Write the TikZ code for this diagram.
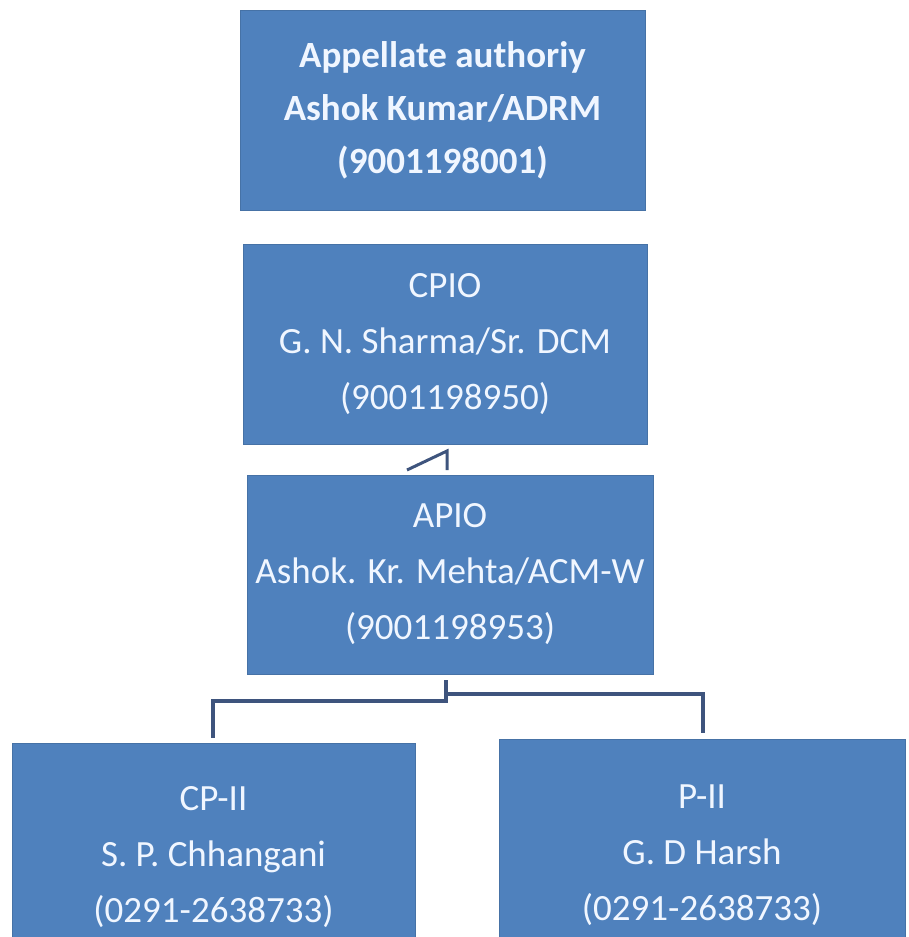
\documentclass[tikz,border=0pt]{standalone}
\usepackage{fontspec}
\setmainfont{Carlito}
\usetikzlibrary{positioning}
\definecolor{boxblue}{RGB}{79,129,189}
\definecolor{linkblue}{RGB}{62,84,125}
\definecolor{textwhite}{RGB}{240,246,255}

\begin{document}
\begin{tikzpicture}[x=1pt, y=-1pt,
  post/.style={fill=boxblue, draw=boxblue!88!black, line width=0.8pt, text=textwhite,
    align=center, inner sep=0pt, font=\fontsize{37}{56}\selectfont},
  link/.style={draw=linkblue, line width=3.5pt, line join=miter}]

\useasboundingbox (0,0) rectangle (908,937);
\clip (0,0) rectangle (908,937);

% --- appellate and CPIO ---
\node[post, minimum width=405pt, minimum height=200pt,
  font=\fontsize{37}{53}\selectfont\bfseries] (appellate) at (442.5,110)
  {Appellate authoriy\\Ashok Kumar/ADRM\\(9001198001)};
\node[post, minimum width=404pt, minimum height=200pt] (cpio) at (445,344)
  {CPIO\\G. N. Sharma/Sr. DCM\\(9001198950)};

% --- APIO ---
\node[post, minimum width=406pt, minimum height=199pt] (apio) at (450,574.5)
  {APIO\\Ashok. Kr. Mehta/ACM-W\\(9001198953)};

% --- bottom row ---
\node[post, minimum width=403pt, minimum height=228pt] (cp2) at (213.5,857)
  {CP-II\\S. P. Chhangani\\(0291-2638733)};
\node[post, minimum width=406pt, minimum height=232pt] (p2) at (702,855)
  {P-II\\G. D Harsh\\(0291-2638733)};

% connector stubs (broken in the original)
\coordinate (kinkA) at (407,470);
\coordinate (kinkB) at (447,451);
\coordinate (kinkC) at (447,470);
\draw[link, line width=3pt] (kinkA) -- (kinkB) -- (kinkC);

\coordinate (apioout) at (446,680);
\coordinate (leftturn) at (446,701);
\coordinate (cp2in) at (213,738);
\coordinate (rightturn) at (446,694);
\coordinate (p2in) at (703,733);
\draw[link] (apioout) -- (leftturn) -| (cp2in);
\draw[link] (rightturn) -| (p2in);

\end{tikzpicture}
\end{document}
